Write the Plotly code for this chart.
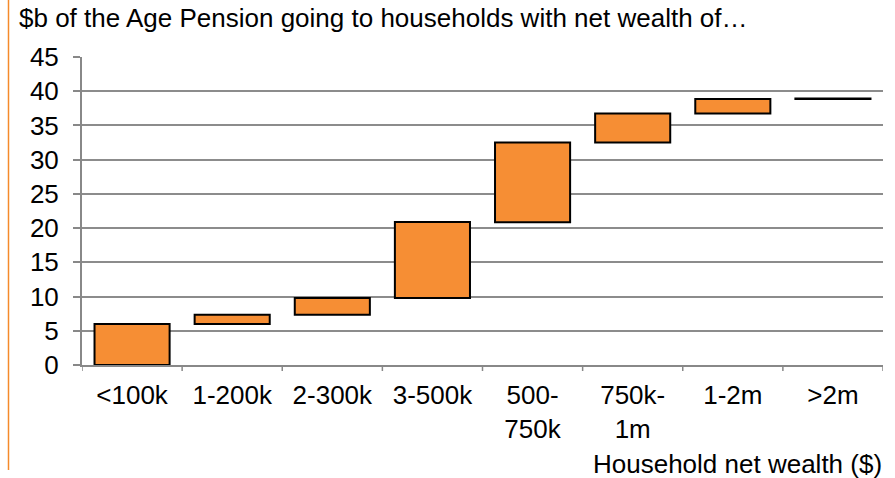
import plotly.graph_objects as go

categories = ["<100k", "1-200k", "2-300k", "3-500k", "500-<br>750k", "750k-<br>1m", "1-2m", ">2m"]
bottoms = [0.0, 6.0, 7.35, 9.8, 20.85, 32.5, 36.75, 38.85]
tops = [6.0, 7.35, 9.8, 20.9, 32.5, 36.75, 38.85, 38.95]
heights = [t - b for t, b in zip(tops, bottoms)]

W, H = 895, 478
L, R, T, B = 82, 12, 57, 113
pw, ph = W - L - R, H - T - B

def px(x):
    return (x - L) / pw

def py(y):
    return (H - B - y) / ph

font = "Liberation Sans, Arial, sans-serif"
FS = 26

fig = go.Figure()
fig.add_trace(go.Bar(
    x=list(range(len(categories))), y=heights, base=bottoms,
    marker=dict(color="#F68E34", line=dict(color="#000000", width=2)),
    width=0.75, hoverinfo="skip",
))

fig.update_layout(
    width=W, height=H,
    margin=dict(l=L, r=R, t=T, b=B),
    plot_bgcolor="white", paper_bgcolor="white",
    showlegend=False,
    font=dict(family=font, size=FS, color="#000000"),
    xaxis=dict(
        range=[-0.5, 7.5], tickmode="array",
        tickvals=list(range(len(categories))), ticktext=categories,
        showgrid=False, showline=True, linecolor="#888888", linewidth=2,
        ticks="", tickfont=dict(size=FS), zeroline=False, ticklabelstandoff=6,
    ),
    yaxis=dict(
        range=[0, 45], dtick=5, showgrid=True, gridcolor="#8c8c8c", gridwidth=1.5,
        showline=True, linecolor="#888888", linewidth=2,
        ticks="outside", ticklen=7, tickcolor="#888888", tickwidth=1.5,
        tickfont=dict(size=FS), zeroline=False, ticklabelstandoff=9,
    ),
    shapes=[
        dict(type="line", xref="paper", yref="paper",
             x0=px(8.5), x1=px(8.5), y0=py(0), y1=py(470),
             line=dict(color="#F58A2B", width=1.5)),
    ] + [
        dict(type="line", xref="x", yref="paper",
             x0=i - 0.5, x1=i - 0.5, y0=0, y1=-6 / ph,
             line=dict(color="#888888", width=1.5))
        for i in range(len(categories) + 1)
    ],
    annotations=[
        dict(text="$b of the Age Pension going to households with net wealth of…",
             xref="paper", yref="paper", x=px(17), y=py(18),
             xanchor="left", yanchor="middle", showarrow=False,
             font=dict(size=FS)),
        dict(text="Household net wealth ($)",
             xref="paper", yref="paper", x=px(884), y=py(464),
             xanchor="right", yanchor="middle", showarrow=False,
             font=dict(size=FS)),
    ],
)

fig.write_html("out.html", config={"displayModeBar": False},
               post_script="document.body.style.margin='0';")
